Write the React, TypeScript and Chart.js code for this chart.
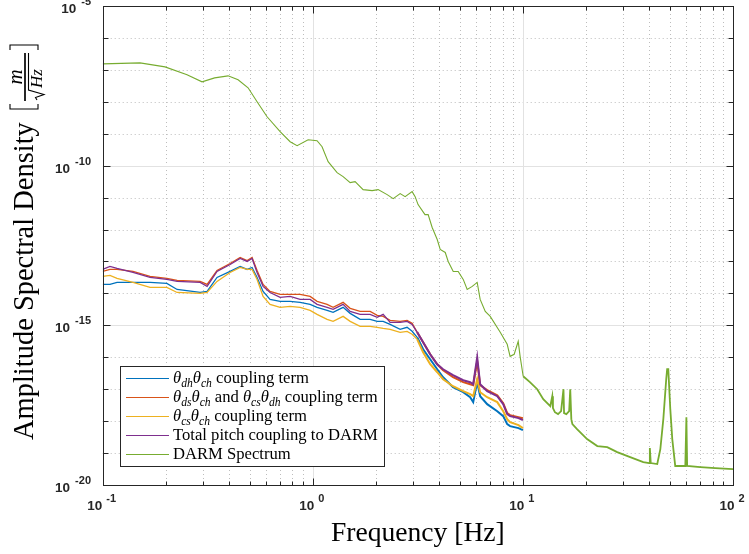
import React, { useEffect, useRef } from "react";
import { Chart, registerables } from "chart.js";
Chart.register(...registerables);

// ---------- DATA ----------
const couplingFreq = [0.1, 0.1083, 0.117, 0.1394, 0.168, 0.202, 0.226, 0.291, 0.314, 0.35, 0.404, 0.451, 0.487, 0.514, 0.543, 0.58, 0.626, 0.699, 0.78, 0.87, 0.971, 1.048, 1.17, 1.249, 1.394, 1.506, 1.68, 1.875, 2.025, 2.162, 2.334, 2.605, 2.81, 2.97, 3.14, 3.35, 3.62, 3.91, 4.17, 4.65, 5.2, 5.61, 5.8, 6.06, 6.26, 6.76, 7.55, 8.06, 8.42, 8.69, 9.53, 10];

const dhChTerm = [1.91e-14, 1.91e-14, 2.21e-14, 2.21e-14, 2.21e-14, 2.05e-14, 1.33e-14, 1.07e-14, 1.155e-14, 3.16e-14,
  4.87e-14, 6.98e-14, 5.62e-14, 6.49e-14, 3.16e-14, 1.155e-14, 6.49e-15, 5.62e-15, 5.62e-15, 5.24e-15,
  4.53e-15, 3.65e-15, 2.94e-15, 2.55e-15, 3.65e-15, 2.37e-15, 1.54e-15, 1.54e-15, 1.33e-15, 1.33e-15,
  1.07e-15, 7.5e-16, 8.66e-16, 6.49e-16, 4.22e-16, 1.78e-16, 8.66e-17, 4.22e-17, 2.37e-17, 1.155e-17,
  8.05e-18, 5.62e-18, 3.93e-18, 1.66e-17, 6.04e-18, 3.4e-18, 2.05e-18, 1.43e-18, 8.05e-19, 6.98e-19,
  6.04e-19, 5.24e-19];

const dsChCsDhTerm = [4.87e-14, 5.62e-14, 5.62e-14, 4.87e-14, 3.4e-14, 2.94e-14, 2.55e-14, 2.37e-14, 1.91e-14, 5.24e-14,
  8.66e-14, 1.33e-13, 1.07e-13, 1.33e-13, 5.24e-14, 1.91e-14, 1.155e-14, 9.31e-15, 9.31e-15, 9.31e-15,
  8.05e-15, 5.62e-15, 4.53e-15, 3.65e-15, 5.24e-15, 3.4e-15, 2.74e-15, 2.74e-15, 2.05e-15, 1.91e-15,
  1.43e-15, 1.33e-15, 1.43e-15, 1.155e-15, 6.04e-16, 2.94e-16, 1.24e-16, 6.04e-17, 3.93e-17, 2.37e-17,
  1.66e-17, 1.43e-17, 1.33e-17, 7.5e-17, 1.33e-17, 9.31e-18, 6.49e-18, 3.65e-18, 1.78e-18, 1.54e-18,
  1.33e-18, 1.24e-18];

const csChTerm = [3.4e-14, 3.65e-14, 2.94e-14, 2.21e-14, 1.54e-14, 1.54e-14, 1.07e-14, 1e-14, 1.07e-14, 2.37e-14,
  4.53e-14, 6.49e-14, 5.62e-14, 5.62e-14, 2.74e-14, 8.05e-15, 4.53e-15, 3.65e-15, 3.93e-15, 3.65e-15,
  2.94e-15, 2.21e-15, 1.54e-15, 1.33e-15, 1.91e-15, 1.33e-15, 9.31e-16, 9.31e-16, 8.66e-16, 8.05e-16,
  7.5e-16, 6.04e-16, 6.49e-16, 5.24e-16, 3.65e-16, 1.43e-16, 6.04e-17, 3.4e-17, 2.05e-17, 1.24e-17,
  8.66e-18, 6.98e-18, 6.04e-18, 2.05e-17, 8.05e-18, 5.62e-18, 3.93e-18, 2.05e-18, 1.155e-18, 9.31e-19,
  7.5e-19, 6.04e-19];

const totalPitch = [5.62e-14, 6.98e-14, 6.04e-14, 4.53e-14, 3.16e-14, 2.74e-14, 2.37e-14, 2.21e-14, 1.66e-14, 4.87e-14,
  8.05e-14, 1.24e-13, 1e-13, 1.24e-13, 4.53e-14, 1.66e-14, 1.07e-14, 7.5e-15, 8.05e-15, 6.49e-15,
  6.49e-15, 4.53e-15, 3.65e-15, 3.16e-15, 4.53e-15, 2.74e-15, 2.21e-15, 2.21e-15, 1.78e-15, 2.21e-15,
  1.24e-15, 1.24e-15, 1.33e-15, 1.07e-15, 6.04e-16, 2.94e-16, 1.24e-16, 6.04e-17, 4.22e-17, 2.74e-17,
  1.91e-17, 1.66e-17, 1.43e-17, 1e-16, 1.43e-17, 8.66e-18, 6.04e-18, 3.4e-18, 1.66e-18, 1.43e-18,
  1.24e-18, 1.07e-18];

const darmFreq = [0.1, 0.1505, 0.198, 0.252, 0.297, 0.341, 0.395, 0.441, 0.492, 0.543,
  0.606, 0.699, 0.78, 0.842, 0.95, 1.048, 1.107, 1.183, 1.305, 1.394,
  1.506, 1.59, 1.736, 1.916, 2.046, 2.259, 2.413, 2.605, 2.751, 2.97,
  3.07, 3.17, 3.42, 3.54, 3.7, 3.91, 4.04, 4.27, 4.41, 4.66,
  4.92, 5.2, 5.43, 5.74, 6.06, 6.26, 6.62, 6.99, 7.8, 8.42,
  8.69, 9.09, 9.5, 9.7, 10.03, 10.8, 11.7, 12.5, 13.5, 13.8,
  13.9, 14.2, 14.7, 15.2, 15.6, 15.7, 16.1, 16.6, 16.8, 17.0,
  17.2, 18.1, 20.2, 22.6, 25.2, 28.1, 32.4, 37.4, 39.9, 40.2,
  40.6, 43.6, 45.1, 46.6, 48.1, 48.6, 49.2, 50.3, 51.4, 53.1,
  59.3, 60, 60.5, 69.9, 82.4, 100];

const darmSpectrum = [1.54e-7, 1.66e-7, 1.24e-7, 6.98e-8, 4.22e-8, 5.62e-8, 6.49e-8, 4.87e-8, 2.74e-8, 1e-8,
  3.4e-9, 1.155e-9, 5.62e-10, 4.22e-10, 6.49e-10, 6.04e-10, 3.93e-10, 1.33e-10, 6.04e-11, 4.53e-11,
  2.94e-11, 3.16e-11, 1.78e-11, 1.66e-11, 1.78e-11, 1.24e-11, 9.31e-12, 1.33e-11, 1.07e-11, 1.54e-11,
  1.07e-11, 6.04e-12, 2.94e-12, 2.94e-12, 1.155e-12, 4.87e-13, 2.37e-13, 1.91e-13, 1e-13, 4.87e-14,
  4.87e-14, 2.74e-14, 1.33e-14, 1.66e-14, 2.21e-14, 6.49e-15, 2.74e-15, 1.91e-15, 6.04e-16, 2.55e-16,
  1.07e-16, 1.24e-16, 3.16e-16, 1.07e-16, 2.55e-17, 1.66e-17, 1e-17, 4.87e-18, 2.94e-18, 6.04e-18,
  2.55e-18, 1.91e-18, 1.66e-18, 2.05e-18, 1e-17, 1.78e-18, 1.66e-18, 2.05e-18, 1e-17, 1.155e-18,
  8.05e-19, 5.62e-19, 2.74e-19, 1.66e-19, 1.54e-19, 1.07e-19, 7.5e-20, 5.24e-20, 4.87e-20, 1.43e-19,
  4.87e-20, 4.53e-20, 1.33e-19, 1.155e-18, 2.05e-17, 4.22e-17, 4.22e-17, 2.37e-18, 2.74e-19, 3.93e-20,
  3.93e-20, 1.33e-18, 3.93e-20, 3.65e-20, 3.4e-20, 3.16e-20];

const xTickExponents = [-1, 0, 1, 2];
const yTickExponents = [-20, -15, -10, -5];

const seriesLabels = [
  "θdh θch coupling term",
  "θds θch and θcs θdh coupling term",
  "θcs θch coupling term",
  "Total pitch coupling to DARM",
  "DARM Spectrum",
];
const seriesColors = ["#0072BD", "#D95319", "#EDB120", "#7E2F8E", "#77AC30"];

// ---------- STYLE HELPERS ----------
const SERIF = '"Liberation Serif", "DejaVu Serif", serif';
const SANS = '"Liberation Sans", Arial, sans-serif';

type Seg = { t: string; it?: boolean; sub?: boolean };
const legendRich: Seg[][] = [
  [{ t: "θ", it: true }, { t: "dh", it: true, sub: true }, { t: "θ", it: true }, { t: "ch", it: true, sub: true }, { t: " coupling term" }],
  [{ t: "θ", it: true }, { t: "ds", it: true, sub: true }, { t: "θ", it: true }, { t: "ch", it: true, sub: true }, { t: " and " },
   { t: "θ", it: true }, { t: "cs", it: true, sub: true }, { t: "θ", it: true }, { t: "dh", it: true, sub: true }, { t: " coupling term" }],
  [{ t: "θ", it: true }, { t: "cs", it: true, sub: true }, { t: "θ", it: true }, { t: "ch", it: true, sub: true }, { t: " coupling term" }],
  [{ t: "Total pitch coupling to DARM" }],
  [{ t: "DARM Spectrum" }],
];

function richWidth(ctx: CanvasRenderingContext2D, segs: Seg[], fs: number) {
  let w = 0;
  for (const s of segs) {
    const size = s.sub ? fs * 0.7 : fs;
    ctx.font = `${s.it ? "italic " : ""}${size}px ${SERIF}`;
    w += ctx.measureText(s.t).width;
  }
  return w;
}
function drawRich(ctx: CanvasRenderingContext2D, segs: Seg[], x: number, y: number, fs: number) {
  let cx = x;
  for (const s of segs) {
    const size = s.sub ? fs * 0.7 : fs;
    ctx.font = `${s.it ? "italic " : ""}${size}px ${SERIF}`;
    ctx.fillText(s.t, cx, s.sub ? y + fs * 0.25 : y);
    cx += ctx.measureText(s.t).width;
  }
}

function fitSize(ctx: CanvasRenderingContext2D, text: string, font: (s: number) => string, target: number) {
  ctx.font = font(20);
  const w = ctx.measureText(text).width;
  return (20 * target) / w;
}

const matlabPlugin = {
  id: "matlabAxes",
  beforeDatasetsDraw(chart: any) {
    const { ctx, chartArea: a } = chart;
    const xs = chart.scales.x, ys = chart.scales.y;
    ctx.save();
    ctx.lineWidth = 1;
    // minor dotted grid
    ctx.strokeStyle = "#bdbdbd";
    ctx.setLineDash([1, 3]);
    ctx.beginPath();
    for (const dec of [0.1, 1, 10]) {
      for (let m = 2; m <= 9; m++) {
        const px = Math.round(xs.getPixelForValue(m * dec)) + 0.5;
        ctx.moveTo(px, a.top);
        ctx.lineTo(px, a.bottom);
      }
    }
    for (let e = -19; e <= -6; e++) {
      if (e % 5 === 0) continue;
      const py = Math.round(ys.getPixelForValue(Math.pow(10, e))) + 0.5;
      ctx.moveTo(a.left, py);
      ctx.lineTo(a.right, py);
    }
    ctx.stroke();
    // major solid grid
    ctx.setLineDash([]);
    ctx.strokeStyle = "#e2e2e2";
    ctx.beginPath();
    for (const v of [1, 10]) {
      const px = Math.round(xs.getPixelForValue(v)) + 0.5;
      ctx.moveTo(px, a.top);
      ctx.lineTo(px, a.bottom);
    }
    for (const e of [-15, -10]) {
      const py = Math.round(ys.getPixelForValue(Math.pow(10, e))) + 0.5;
      ctx.moveTo(a.left, py);
      ctx.lineTo(a.right, py);
    }
    ctx.stroke();
    ctx.restore();
  },
  afterDraw(chart: any) {
    const { ctx, chartArea: a } = chart;
    const xs = chart.scales.x, ys = chart.scales.y;
    ctx.save();
    const L = Math.round(a.left) + 0.5, R = Math.round(a.right) + 0.5;
    const T = Math.round(a.top) + 0.5, B = Math.round(a.bottom) + 0.5;
    // box
    ctx.strokeStyle = "#262626";
    ctx.lineWidth = 1;
    ctx.strokeRect(L, T, R - L, B - T);
    // ticks
    ctx.beginPath();
    for (const dec of [0.1, 1, 10, 100]) {
      for (let m = 1; m <= 9; m++) {
        const v = m * dec;
        if (v > 100.0001) break;
        const px = Math.round(xs.getPixelForValue(v)) + 0.5;
        const len = m === 1 ? 7 : 4;
        ctx.moveTo(px, B); ctx.lineTo(px, B - len);
        ctx.moveTo(px, T); ctx.lineTo(px, T + len);
      }
    }
    for (let e = -20; e <= -5; e++) {
      const py = Math.round(ys.getPixelForValue(Math.pow(10, e))) + 0.5;
      const len = e % 5 === 0 ? 7 : 5;
      ctx.moveTo(L, py); ctx.lineTo(L + len, py);
      ctx.moveTo(R, py); ctx.lineTo(R - len, py);
    }
    ctx.stroke();

    // tick labels
    ctx.fillStyle = "#262626";
    ctx.textBaseline = "alphabetic";
    ctx.textAlign = "left";
    const baseFont = `bold 13.5px ${SANS}`;
    const expFont = `bold 11px ${SANS}`;
    const expText = (e: number) => String(e);
    for (const e of yTickExponents) {
      const py = ys.getPixelForValue(Math.pow(10, e));
      ctx.font = expFont;
      const we = ctx.measureText(expText(e)).width + 2;
      ctx.font = baseFont;
      const wb = ctx.measureText("10").width;
      const right = 91;
      ctx.fillText("10", right - we - 3 - wb, py + 7);
      ctx.font = expFont;
      ctx.fillText(expText(e), right - we + 2, py - 1);
    }
    for (const e of xTickExponents) {
      const px = xs.getPixelForValue(Math.pow(10, e));
      ctx.font = expFont;
      const we = ctx.measureText(expText(e)).width;
      ctx.font = baseFont;
      const wb = ctx.measureText("10").width;
      const start = px - (wb + 4 + we) / 2 - 1;
      ctx.fillText("10", start, 510);
      ctx.font = expFont;
      ctx.fillText(expText(e), start + wb + 4, 502);
    }

    // x title
    ctx.fillStyle = "#000";
    const xt = "Frequency [Hz]";
    const xfs = fitSize(ctx, xt, (s) => `${s}px ${SERIF}`, 174);
    ctx.font = `${xfs}px ${SERIF}`;
    ctx.textAlign = "center";
    ctx.fillText(xt, (a.left + a.right) / 2, 541);
    ctx.textAlign = "left";

    // y title (rotated; in rotated frame +y points to screen right)
    ctx.save();
    ctx.translate(33, 440);
    ctx.rotate(-Math.PI / 2);
    const yt = "Amplitude Spectral Density";
    const yfs = fitSize(ctx, yt, (s) => `${s}px ${SERIF}`, 318);
    ctx.font = `${yfs}px ${SERIF}`;
    ctx.fillText(yt, 0, 0);
    ctx.strokeStyle = "#000";
    ctx.lineWidth = 1.1;
    // left bracket
    ctx.beginPath();
    ctx.moveTo(336, -23); ctx.lineTo(331, -23); ctx.lineTo(331, 5); ctx.lineTo(336, 5);
    ctx.stroke();
    // right bracket
    ctx.beginPath();
    ctx.moveTo(390, -23); ctx.lineTo(395, -23); ctx.lineTo(395, 5); ctx.lineTo(390, 5);
    ctx.stroke();
    // fraction bar
    ctx.lineWidth = 1.7;
    ctx.beginPath();
    ctx.moveTo(339, -8); ctx.lineTo(387, -8);
    ctx.stroke();
    // numerator m
    ctx.font = `italic 21px ${SERIF}`;
    ctx.textAlign = "center";
    ctx.fillText("m", 363, -11);
    // sqrt sign
    ctx.lineWidth = 1.1;
    ctx.beginPath();
    ctx.moveTo(340, 4); ctx.lineTo(342.5, 2.5); ctx.lineTo(345.5, 11); ctx.lineTo(350, -4.5); ctx.lineTo(387, -4.5);
    ctx.stroke();
    ctx.font = `italic 17px ${SERIF}`;
    ctx.textAlign = "left";
    ctx.fillText("Hz", 352, 9);
    ctx.restore();

    // legend
    const lx = 120.5, ly = 366.5, lw = 264, lh = 100;
    ctx.fillStyle = "#fff";
    ctx.fillRect(lx, ly, lw, lh);
    ctx.strokeStyle = "#262626";
    ctx.lineWidth = 1;
    ctx.strokeRect(lx, ly, lw, lh);
    const lfs = (16 * 205) / richWidth(ctx, legendRich[3], 16);
    for (let i = 0; i < 5; i++) {
      const cy = 378 + i * 19;
      ctx.strokeStyle = seriesColors[i];
      ctx.lineWidth = 1.2;
      ctx.beginPath();
      ctx.moveTo(126, cy + 0.5);
      ctx.lineTo(169, cy + 0.5);
      ctx.stroke();
      ctx.fillStyle = "#000";
      drawRich(ctx, legendRich[i], 173, cy + 5, lfs);
    }
    ctx.restore();
  },
};

export default function App() {
  const ref = useRef<HTMLCanvasElement | null>(null);
  useEffect(() => {
    document.body.style.margin = "0";
    const canvas = ref.current!;
    const mk = (fr: number[], vals: number[]) => fr.map((f, i) => ({ x: f, y: vals[i] }));
    const allSeries = [
      mk(couplingFreq, dhChTerm),
      mk(couplingFreq, dsChCsDhTerm),
      mk(couplingFreq, csChTerm),
      mk(couplingFreq, totalPitch),
      mk(darmFreq, darmSpectrum),
    ];
    const orders = [5, 4, 3, 2, 1];
    const chart = new Chart(canvas, {
      type: "line",
      data: {
        datasets: allSeries.map((d, i) => ({
          label: seriesLabels[i],
          data: d,
          borderColor: seriesColors[i],
          backgroundColor: seriesColors[i],
          borderWidth: i === 4 ? 1.1 : 1.3,
          pointRadius: 0,
          tension: 0,
          fill: false,
          order: orders[i],
          segment: {
            borderWidth: (c: any) =>
              i === 4 ? (c.p0.parsed.x >= 10 ? 1.8 : 1.1) : (c.p0.parsed.x >= 3 ? 2 : 1.3),
          },
        })),
      },
      options: {
        responsive: false,
        animation: false,
        layout: { padding: { left: 0, right: 16, top: 6, bottom: 0 } },
        plugins: { legend: { display: false }, tooltip: { enabled: false } },
        scales: {
          x: {
            type: "logarithmic",
            min: 0.1,
            max: 100,
            grid: { display: false },
            ticks: { display: false },
            border: { display: false },
            afterFit: (s: any) => { s.height = 69; },
          },
          y: {
            type: "logarithmic",
            min: 1e-20,
            max: 1e-5,
            grid: { display: false },
            ticks: { display: false },
            border: { display: false },
            afterFit: (s: any) => { s.width = 102.7; },
          },
        },
      } as any,
      plugins: [matlabPlugin],
    });
    return () => chart.destroy();
  }, []);
  return (
    <div style={{ position: "absolute", left: 0, top: 0, width: 749, height: 554, background: "#fff" }}>
      <canvas ref={ref} width={749} height={554} style={{ display: "block" }} />
    </div>
  );
}
